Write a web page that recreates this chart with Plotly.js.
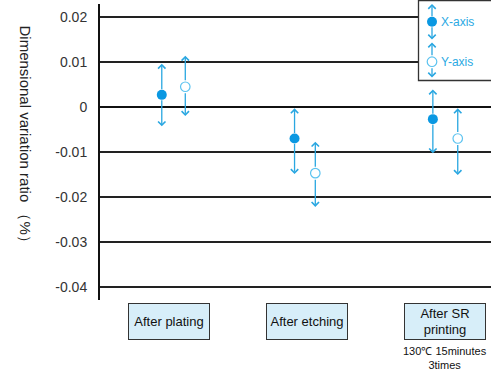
<!DOCTYPE html>
<html>
<head>
<meta charset="utf-8">
<script src="https://cdn.plot.ly/plotly-3.0.1.min.js"></script>
<style>html,body{margin:0;padding:0;background:#fff;}#chart{width:491px;height:376px;}</style>
</head>
<body>
<div id="chart"></div>
<script>
// ---- data ----
var categories = ["After plating", "After etching", "After SR\nprinting"];
var xAxisValues = [0.0027, -0.0070, -0.0027];
var xAxisUpper  = [0.0096, -0.0003, 0.0039];
var xAxisLower  = [-0.0043, -0.0149, -0.0103];
var yAxisValues = [0.0045, -0.0147, -0.0070];
var yAxisUpper  = [0.0114, -0.0077, -0.0003];
var yAxisLower  = [-0.0020, -0.0222, -0.0151];
var xSeriesOffset = [-0.05, -0.09, -0.09];
var ySeriesOffset = [0.12, 0.06, 0.09];
var tickValues = [0.02, 0.01, 0, -0.01, -0.02, -0.03, -0.04];
var tickLabels = ["0.02", "0.01", "0", "-0.01", "-0.02", "-0.03", "-0.04"];
var seriesNames = ["X-axis", "Y-axis"];
var noteText = "130℃ 15minutes<br>3times";

// ---- styling ----
var W = 491, H = 376, ML = 100, MR = 0, MT = 4, MB = 76;
var PW = W - ML - MR, PH = H - MT - MB;
function px2paperX(px){ return (px - ML) / PW; }
function px2paperY(py){ return (H - MB - py) / PH; }
var fillBlue = "#0a98e2", arrowBlue = "#2aa7e1", openBlue = "#5cc3f0", textBlue = "#2aa9e3";
var narrow = "Liberation Sans Narrow, Arial Narrow, Liberation Sans, Arial, sans-serif";

var idx = categories.map(function(_, i){ return i; });
var xPosX = idx.map(function(i){ return i + xSeriesOffset[i]; });
var xPosY = idx.map(function(i){ return i + ySeriesOffset[i]; });

var traces = [
  {x: xPosX, y: xAxisValues, type: "scatter", mode: "markers", name: seriesNames[0],
   marker: {color: fillBlue, size: 10, line: {width: 0}}, showlegend: false, hoverinfo: "none"},
  {x: xPosY, y: yAxisValues, type: "scatter", mode: "markers", name: seriesNames[1],
   marker: {color: "#ffffff", size: 9.5, line: {color: openBlue, width: 1.2}}, showlegend: false, hoverinfo: "none"}
];

var annotations = [];
function addArrow(x, yFrom, yTo, standoff){
  annotations.push({x: x, y: yTo, ax: x, ay: yFrom, xref: "x", yref: "y", axref: "x", ayref: "y",
    showarrow: true, arrowhead: 4, arrowsize: 1.1, arrowwidth: 1.3, arrowcolor: arrowBlue,
    startstandoff: standoff, text: ""});
}
idx.forEach(function(i){
  addArrow(xPosX[i], xAxisValues[i], xAxisUpper[i], 4);
  addArrow(xPosX[i], xAxisValues[i], xAxisLower[i], 4);
  addArrow(xPosY[i], yAxisValues[i], yAxisUpper[i], 5);
  addArrow(xPosY[i], yAxisValues[i], yAxisLower[i], 5);
});

// category boxes
idx.forEach(function(i){
  annotations.push({x: i, xref: "x", y: px2paperY(321.5), yref: "paper", yanchor: "middle",
    text: categories[i].replace("\n", "<br>"), showarrow: false,
    width: 80, height: 35, bgcolor: "#d7eef9", bordercolor: "#333333", borderwidth: 1, borderpad: 0,
    font: {family: narrow, size: 13, color: "#111111"}});
});
annotations.push({x: 2.0, xref: "x", y: px2paperY(358), yref: "paper", yanchor: "middle",
  text: noteText, showarrow: false, font: {family: narrow, size: 11, color: "#111111"}});

// y-axis title (reads top to bottom)
annotations.push({x: px2paperX(15), xref: "paper", y: px2paperY(137), yref: "paper",
  text: "Dimensional variation ratio （%）", textangle: 90, showarrow: false,
  font: {family: "Liberation Sans, Arial, sans-serif", size: 15, color: "#222222"}});

// legend
var shapes = [
  {type: "rect", xref: "paper", yref: "paper", x0: px2paperX(418.5), x1: px2paperX(497),
   y0: px2paperY(80.5), y1: px2paperY(0.5), line: {color: "#333333", width: 1.3}, fillcolor: "#ffffff", layer: "above"},
  {type: "circle", xref: "paper", yref: "paper", xsizemode: "pixel", ysizemode: "pixel",
   xanchor: px2paperX(432), yanchor: px2paperY(21.7), x0: -5, x1: 5, y0: -5, y1: 5,
   fillcolor: fillBlue, line: {width: 0}, layer: "above"},
  {type: "circle", xref: "paper", yref: "paper", xsizemode: "pixel", ysizemode: "pixel",
   xanchor: px2paperX(432), yanchor: px2paperY(61.7), x0: -4.8, x1: 4.8, y0: -4.8, y1: 4.8,
   fillcolor: "#ffffff", line: {color: openBlue, width: 1.2}, layer: "above"}
];
function legArrow(cy, headY, so){
  annotations.push({x: px2paperX(432), y: px2paperY(headY), xref: "paper", yref: "paper",
    ax: 0, ay: cy - headY, showarrow: true, arrowhead: 4, arrowsize: 1.1, arrowwidth: 1.3,
    arrowcolor: arrowBlue, startstandoff: so, text: ""});
}
legArrow(21.7, 4, 4); legArrow(21.7, 39.5, 4);
legArrow(61.7, 42.5, 5); legArrow(61.7, 77.5, 5);
annotations.push({x: px2paperX(439), y: px2paperY(22), xref: "paper", yref: "paper", xanchor: "left", yanchor: "middle",
  text: seriesNames[0], showarrow: false, font: {family: "Liberation Sans, Arial, sans-serif", size: 12, color: textBlue}});
annotations.push({x: px2paperX(439), y: px2paperY(62), xref: "paper", yref: "paper", xanchor: "left", yanchor: "middle",
  text: seriesNames[1], showarrow: false, font: {family: "Liberation Sans, Arial, sans-serif", size: 12, color: textBlue}});

var layout = {
  width: W, height: H, margin: {l: ML, r: MR, t: MT, b: MB, pad: 0},
  paper_bgcolor: "#ffffff", plot_bgcolor: "#ffffff", showlegend: false,
  xaxis: {range: [-0.4967, 2.3304], showgrid: false, zeroline: false, showticklabels: false, ticks: "", showline: false, fixedrange: true},
  yaxis: {range: [-0.04289, 0.02289], tickvals: tickValues, ticktext: tickLabels, showgrid: true,
    gridcolor: "#222222", gridwidth: 1.2, zeroline: true, zerolinecolor: "#111111", zerolinewidth: 2.2,
    showline: true, linecolor: "#111111", linewidth: 2, ticks: "", ticklabelstandoff: 8,
    tickfont: {family: "Liberation Sans, Arial, sans-serif", size: 14, color: "#333333"}, fixedrange: true},
  annotations: annotations, shapes: shapes
};
Plotly.newPlot("chart", traces, layout, {displayModeBar: false, staticPlot: true});
</script>
</body>
</html>
